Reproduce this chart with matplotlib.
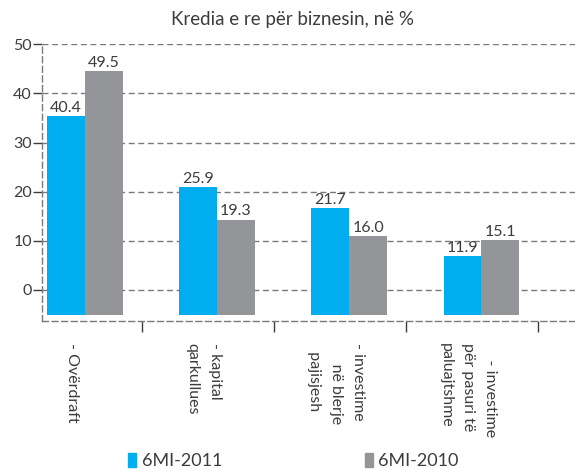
import matplotlib.pyplot as plt
import numpy as np
from matplotlib.patches import Patch

categories = ['- Ovërdraft',
              '- kapital\nqarkullues',
              '- investime\n     në blerje\n  pajisjesh',
              '    - investime\npër pasuri të\npaluajtshme']
vals_2011 = [40.4, 25.9, 21.7, 11.9]
vals_2010 = [49.5, 19.3, 16.0, 15.1]
series_names = ['6MI-2011', '6MI-2010']

blue = '#00aeef'
gray = '#939598'
txt = '#3c3c3c'
grid_c = '#7a7a7a'

plt.rcParams['font.family'] = ['Lato', 'DejaVu Sans']

fig = plt.figure(figsize=(5.75, 4.71), dpi=100)
ax = fig.add_axes([42.3 / 575, (471 - 320.7) / 471, (575 - 42.3) / 575, (320.7 - 43.8) / 471])

x = np.arange(len(categories))
w = 0.286
base = -5.0
b1 = ax.bar(x - w / 2, vals_2011, w, bottom=base, color=blue, zorder=3)
b2 = ax.bar(x + w / 2, vals_2010, w, bottom=base, color=gray, zorder=3)
ax.bar_label(b1, labels=[f'{v:.1f}' for v in vals_2011], padding=1, fontsize=11.5, color=txt)
ax.bar_label(b2, labels=[f'{v:.1f}' for v in vals_2010], padding=1, fontsize=11.5, color=txt)

ax.set_ylim(-6.26, 50.1)
ax.set_xlim(-0.323, 3.709)
ax.set_yticks([0, 10, 20, 30, 40, 50])
ax.grid(axis='y', color=grid_c, linestyle=(0, (4.3, 2.6)), linewidth=1.0, zorder=0)
ax.set_axisbelow(True)

for s in ['top', 'right']:
    ax.spines[s].set_visible(False)
for s in ['left', 'bottom']:
    ax.spines[s].set_linestyle((0, (4.3, 2.6)))
    ax.spines[s].set_color(grid_c)
    ax.spines[s].set_linewidth(1.0)

ax.tick_params(axis='y', length=6.5, width=1.0, color=txt, pad=1, labelsize=11.5, labelcolor=txt)

# category labels, rotated, slightly left of the group centre
ax.set_xticks(x - 0.1)
ax.set_xticklabels(categories, rotation=-90, ha='center', va='top',
                   fontsize=11.5, color=txt, linespacing=1.75, multialignment='left')
ax.tick_params(axis='x', which='major', length=0, pad=16)
ax.set_xticks(x + 0.43, minor=True)
ax.tick_params(axis='x', which='minor', length=8, width=1.0, color=txt)

fig.text(0.508, 1 - 20 / 471, 'Kredia e re për biznesin, në %', ha='center', va='center',
         fontsize=13.5, color=txt)

handles = [Patch(color=blue), Patch(color=gray)]
fig.legend(handles, series_names, loc='center', bbox_to_anchor=(0.51, 1 - 461 / 471),
           ncol=2, frameon=False, fontsize=13, handlelength=0.45, handleheight=0.85,
           handletextpad=0.3, columnspacing=7.9, labelcolor=txt)

fig.savefig('out.png', dpi=100)
